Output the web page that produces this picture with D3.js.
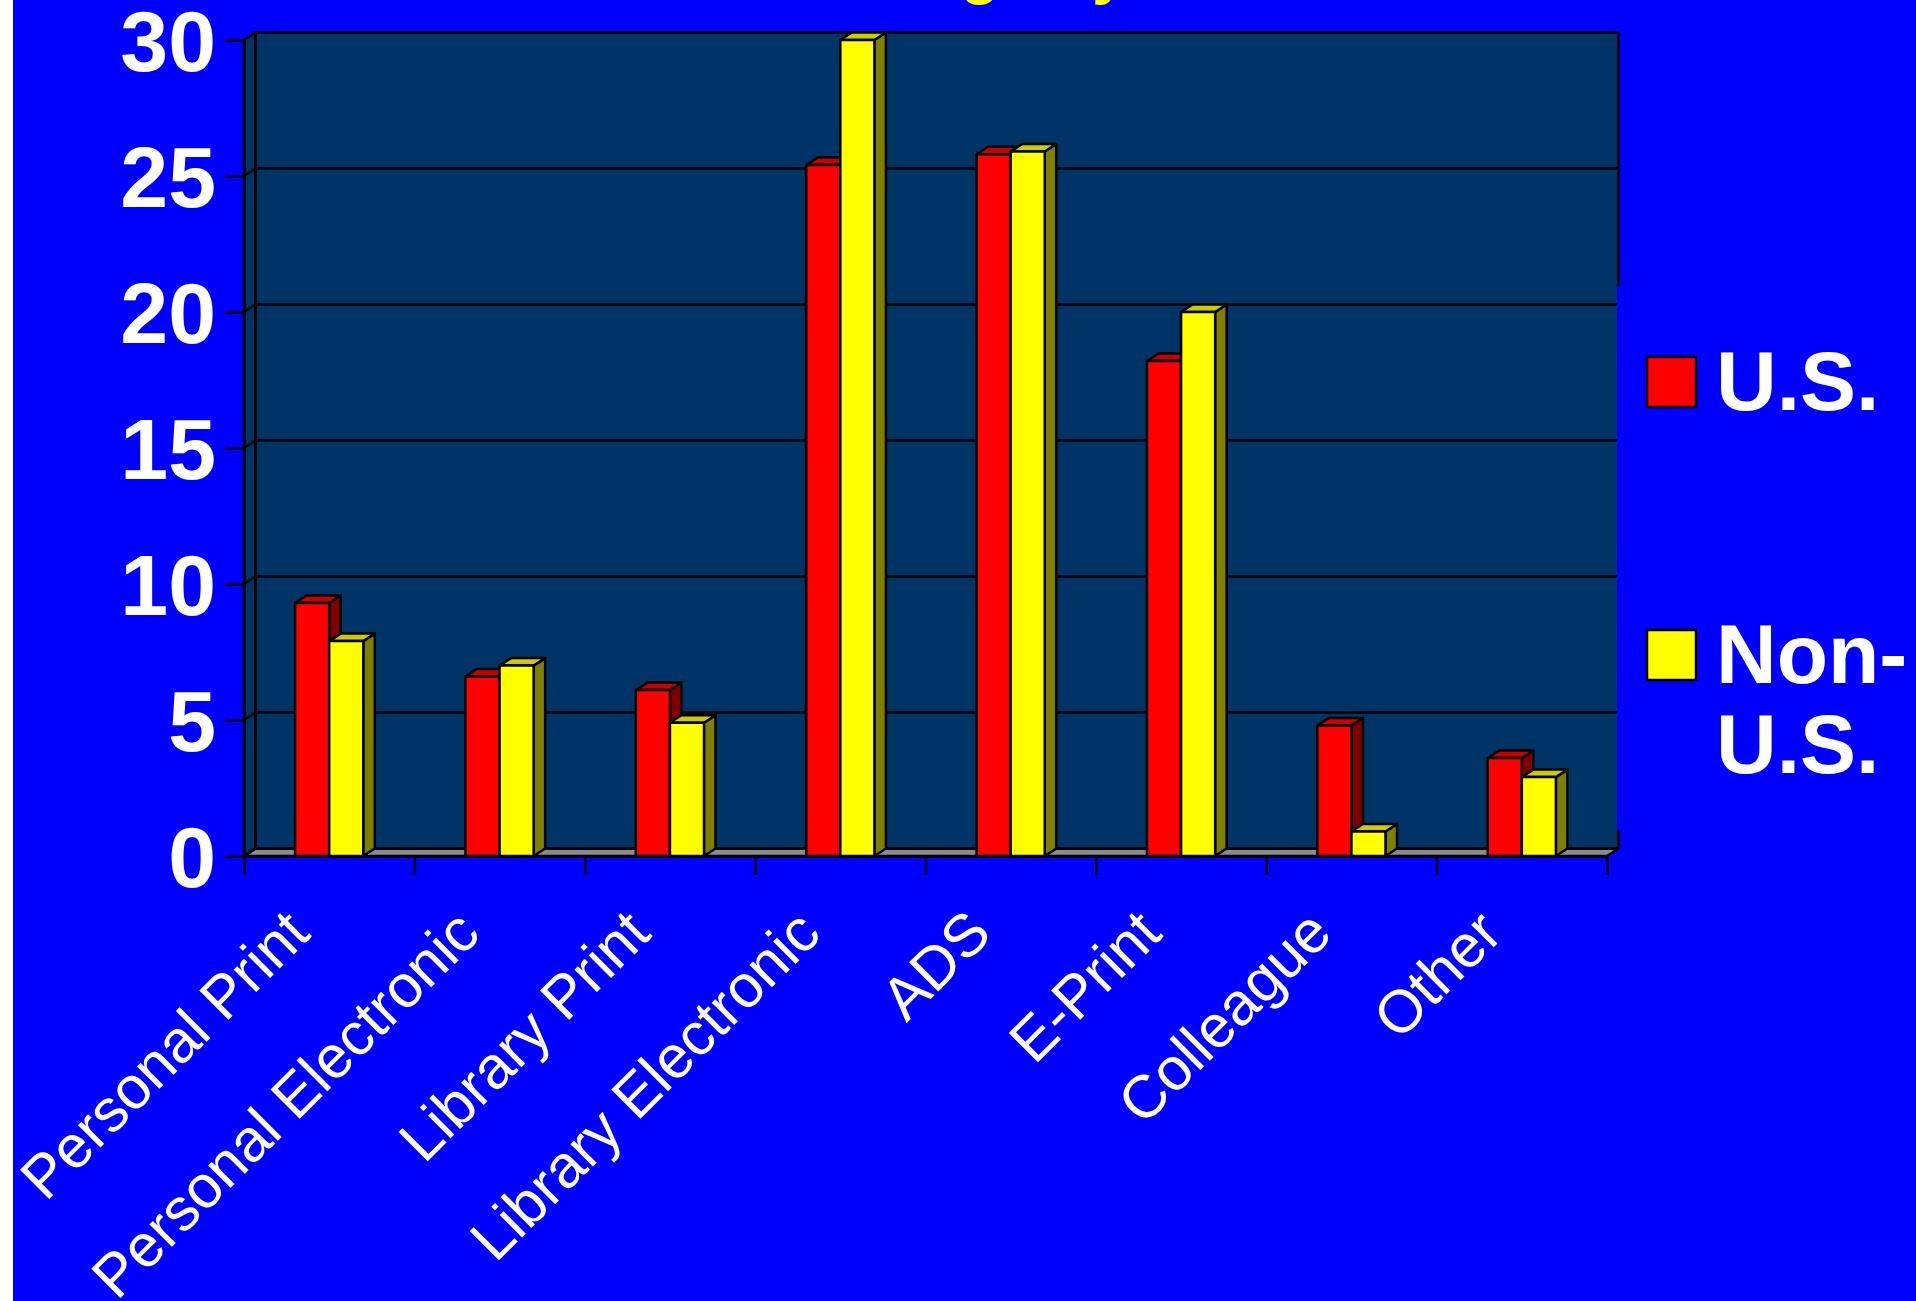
<!DOCTYPE html>
<html>
<head>
<meta charset="utf-8">
<script src="https://cdn.jsdelivr.net/npm/d3@7"></script>
<style>
  html, body { margin: 0; padding: 0; background: #ffffff; }
  svg { display: block; }
  text { font-family: "Liberation Sans", Arial, Helvetica, sans-serif; }
</style>
</head>
<body>
<svg id="chart" width="1916" height="1301"></svg>
<script>
// Sources of articles read, U.S. vs. Non-U.S. respondents (percent)
const categories = ["Personal Print", "Personal Electronic", "Library Print", "Library Electronic",
                    "ADS", "E-Print", "Colleague", "Other"];
const usValues    = [9.3, 6.6, 6.1, 25.4, 25.8, 18.2, 4.8, 3.6];
const nonUsValues = [7.9, 7.0, 4.9, 30.0, 25.9, 20.0, 0.9, 2.9];
const seriesNames = ["U.S.", "Non-U.S."];
const yTicks = [0, 5, 10, 15, 20, 25, 30];
const titleText = "Usage by Source";

const series = [
  { name: seriesNames[0], values: usValues,    front: "#ff0000", top: "#c80000", side: "#800000" },
  { name: seriesNames[1], values: nonUsValues, front: "#ffff00", top: "#cccc00", side: "#808000" }
];

const svg = d3.select("#chart");
const W = 1916, H = 1301;

// page background: thin white margin then the blue slide
svg.append("rect").attr("x", 0).attr("y", 0).attr("width", W).attr("height", H).attr("fill", "#ffffff");
svg.append("rect").attr("x", 13).attr("y", 0).attr("width", W - 13).attr("height", H).attr("fill", "#0000ff");

// title (sits mostly above the visible slide area)
svg.append("text")
  .attr("x", 843).attr("y", -8)
  .attr("fill", "#ffff00")
  .attr("font-weight", "bold")
  .attr("font-size", 64)
  .text(titleText);

// 3-D depth offset of the walls and columns
const DX = 11.5, DY = -7.5;
const LINE = "#000000", LW = 2.5;

const x = d3.scaleBand().domain(categories).range([244, 1607]).padding(0);
const bw = x.bandwidth();
const xs = d3.scaleBand().domain(seriesNames).range([0.3 * bw, 0.7 * bw]).padding(0);
const y = d3.scaleLinear().domain([0, 30]).range([856, 40]);
const xEdge = d3.scaleLinear().domain([0, categories.length]).range([244, 1607]);

const xL = x.range()[0], xR = x.range()[1];
const yB = y(0), yT = y(30);

const pts = a => a.map(p => p.join(",")).join(" ");

// back wall
svg.append("polygon")
  .attr("points", pts([[xL + DX, yT + DY], [xR + DX, yT + DY], [xR + DX, yB + DY], [xL + DX, yB + DY]]))
  .attr("fill", "#003366");
// side wall
svg.append("polygon")
  .attr("points", pts([[xL, yB], [xL, yT], [xL + DX, yT + DY], [xL + DX, yB + DY]]))
  .attr("fill", "#003366").attr("stroke", LINE).attr("stroke-width", LW).attr("stroke-linejoin", "round");
// floor
svg.append("polygon")
  .attr("points", pts([[xL, yB], [xL + DX, yB + DY], [xR + DX, yB + DY], [xR, yB]]))
  .attr("fill", "#8c8c8c").attr("stroke", LINE).attr("stroke-width", LW).attr("stroke-linejoin", "round");

// gridlines across back wall and their slanted continuation on the side wall
const grid = svg.append("g");
yTicks.forEach(t => {
  grid.append("line")
    .attr("x1", xL + DX).attr("x2", xR + DX)
    .attr("y1", y(t) + DY).attr("y2", y(t) + DY)
    .attr("stroke", LINE).attr("stroke-width", LW);
  grid.append("line")
    .attr("x1", xL).attr("x2", xL + DX)
    .attr("y1", y(t)).attr("y2", y(t) + DY)
    .attr("stroke", LINE).attr("stroke-width", LW);
});
// back wall left and right edges
grid.append("line").attr("x1", xL + DX).attr("x2", xL + DX).attr("y1", yT + DY).attr("y2", yB + DY)
  .attr("stroke", LINE).attr("stroke-width", LW);
grid.append("line").attr("x1", xR + DX).attr("x2", xR + DX).attr("y1", yT + DY).attr("y2", yB + DY)
  .attr("stroke", LINE).attr("stroke-width", LW);

// 3-D columns
const bars = svg.append("g");
categories.forEach((c, i) => {
  series.forEach(s => {
    const v = s.values[i];
    const x0 = x(c) + xs(s.name), x1 = x0 + xs.bandwidth();
    const yv = y(v);
    const g = bars.append("g").attr("stroke", LINE).attr("stroke-width", LW).attr("stroke-linejoin", "round");
    g.append("polygon").attr("fill", s.side)
      .attr("points", pts([[x1, yv], [x1 + DX, yv + DY], [x1 + DX, yB + DY], [x1, yB]]));
    g.append("polygon").attr("fill", s.top)
      .attr("points", pts([[x0, yv], [x0 + DX, yv + DY], [x1 + DX, yv + DY], [x1, yv]]));
    g.append("polygon").attr("fill", s.front)
      .attr("points", pts([[x0, yv], [x1, yv], [x1, yB], [x0, yB]]));
  });
});

// value axis
const yAxis = svg.append("g")
  .attr("transform", `translate(${xL},0)`)
  .call(d3.axisLeft(y).tickValues(yTicks).tickFormat(d3.format("d")).tickSize(19).tickSizeOuter(0).tickPadding(9));
yAxis.select(".domain").attr("stroke", LINE).attr("stroke-width", LW);
yAxis.selectAll(".tick line").attr("stroke", LINE).attr("stroke-width", LW);
yAxis.selectAll(".tick text")
  .attr("fill", "#ffffff").attr("font-size", 86).attr("font-weight", "bold")
  .attr("font-family", "'Liberation Sans', Arial, sans-serif")
  .attr("dy", "0.36em");

// category axis: tick marks at category boundaries
const xTickAxis = svg.append("g")
  .attr("transform", `translate(0,${yB})`)
  .call(d3.axisBottom(xEdge).tickValues(d3.range(categories.length + 1)).tickFormat("").tickSize(19).tickSizeOuter(0));
xTickAxis.select(".domain").attr("stroke", LINE).attr("stroke-width", LW);
xTickAxis.selectAll(".tick line").attr("stroke", LINE).attr("stroke-width", LW);

// category labels, slanted
const xLabelAxis = svg.append("g")
  .attr("transform", `translate(0,${yB})`)
  .call(d3.axisBottom(x).tickSize(0).tickPadding(0));
xLabelAxis.select(".domain").remove();
xLabelAxis.selectAll(".tick text")
  .attr("fill", "#ffffff").attr("font-size", 60)
  .attr("font-family", "'Liberation Sans', Arial, sans-serif")
  .attr("text-anchor", "end")
  .attr("x", 0).attr("y", 0).attr("dy", 0)
  .attr("transform", "translate(-17,80) rotate(-45)");

// legend (its box covers part of the back wall's right edge)
const legend = svg.append("g");
legend.append("rect").attr("x", 1617).attr("y", 286).attr("width", W - 1617).attr("height", 544).attr("fill", "#0000ff");
const legendRows = [
  { s: series[0], sy: 357, lines: ["U.S."], base: 410 },
  { s: series[1], sy: 630, lines: ["Non-", "U.S."], base: 683 }
];
legendRows.forEach(r => {
  legend.append("rect").attr("x", 1647).attr("y", r.sy).attr("width", 49).attr("height", 50)
    .attr("fill", r.s.front).attr("stroke", LINE).attr("stroke-width", LW);
  const t = legend.append("text").attr("x", 1716).attr("y", r.base)
    .attr("fill", "#ffffff").attr("font-size", 84).attr("font-weight", "bold");
  r.lines.forEach((ln, k) => t.append("tspan").attr("x", 1716).attr("dy", k === 0 ? 0 : 90).text(ln));
});
</script>
</body>
</html>
